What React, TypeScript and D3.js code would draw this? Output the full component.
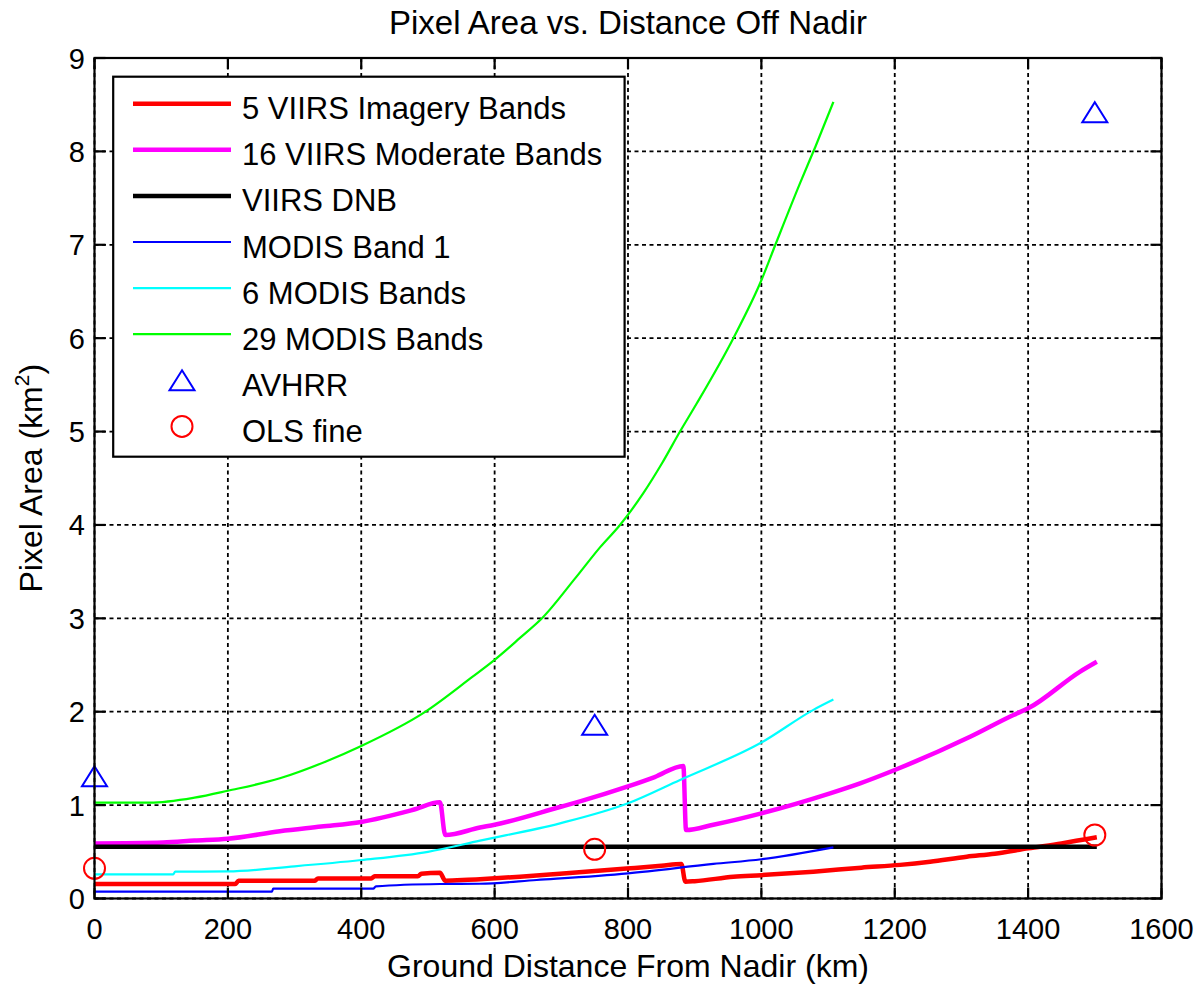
import React from 'react';
import * as d3 from 'd3';

// ---- data (km from nadir, pixel area km^2) ----
const xTicks = [0, 200, 400, 600, 800, 1000, 1200, 1400, 1600];
const yTicks = [0, 1, 2, 3, 4, 5, 6, 7, 8, 9];

const viirsImagery: [number, number][] = [
  [0, 0.155], [211, 0.155], [216, 0.19], [330, 0.19], [335, 0.215], [415, 0.215],
  [420, 0.238], [485, 0.238], [490, 0.265], [518, 0.275], [526, 0.19], [560, 0.2],
  [578, 0.207], [638, 0.233], [698, 0.265], [798, 0.32], [850, 0.35], [880, 0.37],
  [886, 0.18], [900, 0.185], [958, 0.233], [1000, 0.25], [1078, 0.287], [1150, 0.33],
  [1208, 0.36], [1253, 0.394], [1308, 0.448], [1350, 0.48], [1400, 0.537], [1450, 0.59],
  [1503, 0.655],
];

const viirsModerate: [number, number][] = [
  [0, 0.59], [103, 0.6], [150, 0.62], [200, 0.64], [278, 0.72], [340, 0.77], [400, 0.82],
  [478, 0.95], [518, 1.03], [526, 0.68], [578, 0.76], [600, 0.79], [698, 0.98], [728, 1.04],
  [800, 1.2], [840, 1.3], [883, 1.42], [887, 0.733], [928, 0.79], [1000, 0.912],
  [1103, 1.126], [1148, 1.233], [1200, 1.376], [1313, 1.732], [1378, 1.965], [1400, 2.036],
  [1478, 2.43], [1503, 2.535],
];

const viirsDnb: [number, number][] = [[0, 0.555], [1503, 0.555]];

const modisBand1: [number, number][] = [
  [0, 0.073], [266, 0.073], [268, 0.105], [418, 0.105], [422, 0.13], [518, 0.155],
  [578, 0.158], [663, 0.198], [800, 0.27], [928, 0.37], [1000, 0.42], [1108, 0.548],
];

const modis6: [number, number][] = [
  [0, 0.259], [118, 0.259], [121, 0.287], [200, 0.29], [300, 0.345], [400, 0.412],
  [500, 0.5], [578, 0.62], [698, 0.805], [800, 1.02], [878, 1.27], [1000, 1.67],
  [1078, 2.02], [1108, 2.13],
];

const modis29: [number, number][] = [
  [0, 1.026], [83, 1.026], [150, 1.08], [200, 1.154], [278, 1.287], [348, 1.47],
  [400, 1.633], [494, 1.99], [566, 2.37], [599, 2.55], [638, 2.79],
  [671, 3.0], [721, 3.43], [758, 3.76], [788, 4.0], [823, 4.34], [851, 4.66], [878, 5.0],
  [903, 5.3], [958, 6.0], [1000, 6.62], [1021, 7.0], [1058, 7.66],
  [1081, 8.05], [1108, 8.53],
];

const avhrr: [number, number][] = [[0, 1.31], [750, 1.86], [1500, 8.42]];
const olsFine: [number, number][] = [[0, 0.323], [750, 0.527], [1500, 0.68]];

const seriesNames = [
  '5 VIIRS Imagery Bands',
  '16 VIIRS Moderate Bands',
  'VIIRS DNB',
  'MODIS Band 1',
  '6 MODIS Bands',
  '29 MODIS Bands',
];
const seriesData = [viirsImagery, viirsModerate, viirsDnb, modisBand1, modis6, modis29];
const seriesColors = ['#ff0000', '#ff00ff', '#000000', '#0000ff', '#00ffff', '#00ff00'];
const seriesWidths = [4.5, 4.5, 4.5, 2.2, 2.2, 2.2];

export default function App() {
  const W = 1198;
  const H = 986;
  const left = 94.5, right = 1161.5, top = 58, bottom = 898.5;
  const x = d3.scaleLinear().domain([0, 1600]).range([left, right]);
  const y = d3.scaleLinear().domain([0, 9]).range([bottom, top]);
  const line = d3.line<[number, number]>()
    .x(d => x(d[0]))
    .y(d => y(d[1]))
    .curve(d3.curveMonotoneX);
  const font = "'Liberation Sans', Arial, Helvetica, sans-serif";
  const tickLen = 11;

  const triPath = (cx: number, cy: number) =>
    `M${cx},${cy - 10}L${cx + 12.5},${cy + 10}L${cx - 12.5},${cy + 10}Z`;

  const legX0 = 133, legX1 = 231, legMid = 182;
  const legRow = (i: number) => 103.7 + i * 46.1;
  const legendLabels = [...seriesNames, 'AVHRR', 'OLS fine'];

  return (
    <svg width={W} height={H} style={{ position: 'absolute', left: 0, top: 0, background: '#fff' }}
      fontFamily={font}>
      <rect x={0} y={0} width={W} height={H} fill="#fff" />
      {/* grid */}
      <g stroke="#000" strokeWidth={1.8} strokeDasharray="4,3.5">
        {xTicks.map(t => (
          <line key={'gx' + t} x1={x(t)} x2={x(t)} y1={top} y2={bottom} />
        ))}
        {yTicks.map(t => (
          <line key={'gy' + t} x1={left} x2={right} y1={y(t)} y2={y(t)} />
        ))}
      </g>
      {/* series */}
      <g fill="none" strokeLinejoin="round">
        {seriesData.map((d, i) => (
          <path key={'s' + i} d={line(d) || ''} stroke={seriesColors[i]} strokeWidth={seriesWidths[i]} />
        ))}
      </g>
      {/* markers */}
      <g fill="none" strokeWidth={2}>
        {avhrr.map((d, i) => (
          <path key={'a' + i} d={triPath(x(d[0]), y(d[1]))} stroke="#0000ff" />
        ))}
        {olsFine.map((d, i) => (
          <circle key={'o' + i} cx={x(d[0])} cy={y(d[1])} r={10.5} stroke="#ff0000" />
        ))}
      </g>
      {/* axes box & ticks */}
      <g stroke="#000" strokeWidth={2.2}>
        <rect x={left} y={top} width={right - left} height={bottom - top} fill="none" />
        {xTicks.map(t => (
          <g key={'tx' + t}>
            <line x1={x(t)} x2={x(t)} y1={bottom} y2={bottom - tickLen} />
            <line x1={x(t)} x2={x(t)} y1={top} y2={top + tickLen} />
          </g>
        ))}
        {yTicks.map(t => (
          <g key={'ty' + t}>
            <line x1={left} x2={left + tickLen} y1={y(t)} y2={y(t)} />
            <line x1={right} x2={right - tickLen} y1={y(t)} y2={y(t)} />
          </g>
        ))}
      </g>
      {/* tick labels */}
      <g fontSize={29} fill="#000">
        {xTicks.map(t => (
          <text key={'lx' + t} x={x(t)} y={939} textAnchor="middle">{t}</text>
        ))}
        {yTicks.map(t => (
          <text key={'ly' + t} x={85} y={y(t) + 10.5} textAnchor="end">{t}</text>
        ))}
      </g>
      {/* axis labels & title */}
      <text x={(left + right) / 2} y={34} textAnchor="middle" fontSize={33}>Pixel Area vs. Distance Off Nadir</text>
      <text x={(left + right) / 2} y={977} textAnchor="middle" fontSize={32}>Ground Distance From Nadir (km)</text>
      <text transform={`translate(42,${(top + bottom) / 2}) rotate(-90)`} textAnchor="middle" fontSize={32}>
        Pixel Area (km<tspan dy={-13} fontSize={21}>2</tspan><tspan dy={13}>)</tspan>
      </text>
      {/* legend */}
      <g>
        <rect x={113.2} y={76.7} width={624.6 - 113.2} height={456.7 - 76.7} fill="#fff" stroke="#000" strokeWidth={2.2} />
        {seriesNames.map((n, i) => (
          <line key={'ll' + i} x1={legX0} x2={legX1} y1={legRow(i)} y2={legRow(i)}
            stroke={seriesColors[i]} strokeWidth={seriesWidths[i]} />
        ))}
        <path d={triPath(legMid, legRow(6))} fill="none" stroke="#0000ff" strokeWidth={2} />
        <circle cx={legMid} cy={legRow(7)} r={10.5} fill="none" stroke="#ff0000" strokeWidth={2} />
        {legendLabels.map((n, i) => (
          <text key={'lt' + i} x={242} y={legRow(i) + 15.5} fontSize={31} fill="#000">{n}</text>
        ))}
      </g>
    </svg>
  );
}
